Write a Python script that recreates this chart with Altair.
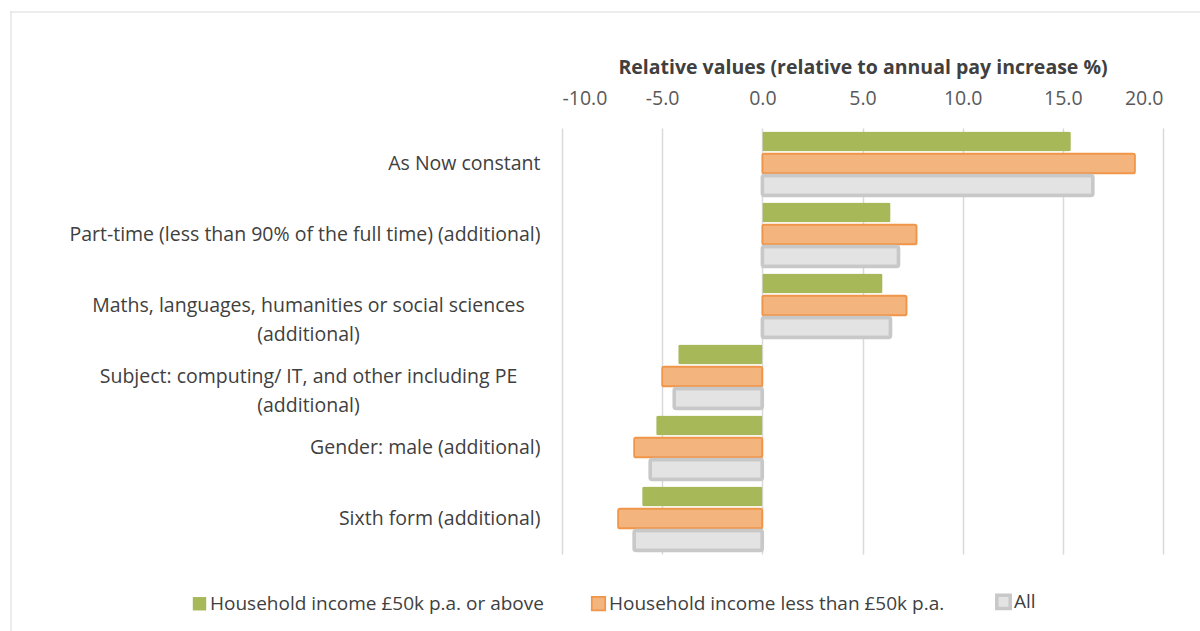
import altair as alt
import pandas as pd

categories = [
    "As Now constant",
    "Part-time (less than 90% of the full time) (additional)",
    "Maths, languages, humanities or social sciences|(additional)",
    "Subject: computing/ IT, and other including PE|(additional)",
    "Gender: male (additional)",
    "Sixth form (additional)",
]
series_names = [
    "Household income £50k p.a. or above",
    "Household income less than £50k p.a.",
    "All",
]
high_income = [15.4, 6.4, 6.0, -4.2, -5.3, -6.0]
low_income = [18.6, 7.7, 7.2, -5.0, -6.4, -7.2]
all_values = [16.5, 6.8, 6.4, -4.4, -5.6, -6.4]
x_ticks = [-10, -5, 0, 5, 10, 15, 20]

fills = ["#A6B857", "#F3B47E", "#E3E3E3"]
strokes = ["#A6B857", "#F0964A", "#C8C8C8"]
stroke_widths = [0, 3.5, 1.5]

rows = []
for s, vals in zip(series_names, [high_income, low_income, all_values]):
    for c, v in zip(categories, vals):
        rows.append({"category": c, "series": s, "value": v})
df = pd.DataFrame(rows)

FONT = "Open Sans"
two_line = "indexof(datum.value, '|') >= 0"

bars = alt.Chart(df).mark_bar(cornerRadius=2).encode(
    x=alt.X(
        "value:Q",
        scale=alt.Scale(domain=[-10, 20], nice=False, zero=False),
        axis=alt.Axis(
            orient="top",
            values=x_ticks,
            labelExpr="replace(format(datum.value, '.1f'), '\u2212', '-')",
            title="Relative values (relative to annual pay increase %)",
            titleFont=FONT,
            titleFontSize=19.5,
            titleFontWeight="bold",
            titleColor="#404040",
            titlePadding=11,
            labelFont=FONT,
            labelFontSize=19.5,
            labelColor="#595959",
            labelPadding=20,
            domain=False,
            ticks=False,
            grid=True,
            gridColor="#D9D9D9",
            gridWidth=1.5,
        ),
    ),
    y=alt.Y(
        "category:N",
        sort=categories,
        scale=alt.Scale(paddingInner=0.1, paddingOuter=0.05),
        axis=alt.Axis(
            title=None,
            labelExpr="split(datum.value, '|')",
            labelAlign={"condition": {"test": two_line, "value": "center"}, "value": "right"},
            labelPadding={"condition": {"test": two_line, "value": 254}, "value": 22},
            labelFont=FONT,
            labelFontSize=19.5,
            labelColor="#404040",
            labelLineHeight=29,
            labelLimit=0,
            labelOverlap=False,
            domain=False,
            ticks=False,
            grid=False,
        ),
    ),
    yOffset=alt.YOffset("series:N", sort=series_names, scale=alt.Scale(paddingInner=0.1)),
    color=alt.Color(
        "series:N",
        sort=series_names,
        scale=alt.Scale(domain=series_names, range=fills),
        legend=alt.Legend(
            orient="none",
            legendX=-372,
            legendY=464,
            direction="horizontal",
            title=None,
            symbolType="square",
            symbolSize=180,
            labelFont=FONT,
            labelFontSize=19,
            labelColor="#404040",
            labelLimit=0,
            columnPadding=44,
            labelOffset=1,
        ),
    ),
    stroke=alt.Stroke("series:N", scale=alt.Scale(domain=series_names, range=strokes), legend=None),
    strokeWidth=alt.StrokeWidth("series:N", scale=alt.Scale(domain=series_names, range=stroke_widths), legend=None),
)

frame_data = alt.Data(values=[{"k": 1}])
frame_top = alt.Chart(frame_data).mark_rule(color="#E6E6E6", strokeWidth=1.5).encode(
    x=alt.value(-552), x2=alt.value(640), y=alt.value(-116)
)
frame_left = alt.Chart(frame_data).mark_rule(color="#E6E6E6", strokeWidth=1.5).encode(
    x=alt.value(-551), y=alt.value(-117), y2=alt.value(510)
)

chart = alt.layer(frame_top, frame_left, bars).properties(
    width=601,
    height=426,
    autosize=alt.AutoSizeParams(type="none"),
    padding={"left": 562, "top": 128, "right": 37, "bottom": 77},
    background="white",
).configure_view(stroke=None)

chart.save("out.html", embed_options={"renderer": "svg", "actions": False})
